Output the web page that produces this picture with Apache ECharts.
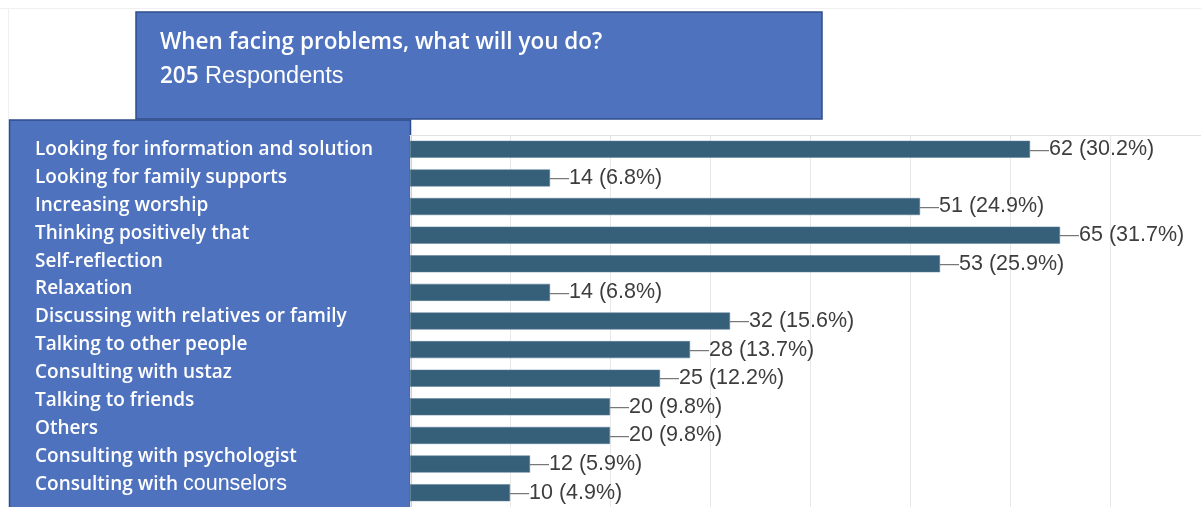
<!DOCTYPE html>
<html>
<head>
<meta charset="utf-8">
<script src="https://cdn.jsdelivr.net/npm/echarts@6/dist/echarts.min.js"></script>
<style>
html,body{margin:0;padding:0;background:#fff;}
#c{width:1201px;height:507px;}
</style>
</head>
<body>
<div id="c"></div>
<script>
const titleLine1 = 'When facing problems, what will you do?';
const respondentsCount = '205';
const respondentsWord = 'Respondents';
const categories = [
  'Looking for information and solution',
  'Looking for family supports',
  'Increasing worship',
  'Thinking positively that',
  'Self-reflection',
  'Relaxation',
  'Discussing with relatives or family',
  'Talking to other people',
  'Consulting with ustaz',
  'Talking to friends',
  'Others',
  'Consulting with psychologist',
  'Consulting with counselors'
];
const counts = [62, 14, 51, 65, 53, 14, 32, 28, 25, 20, 20, 12, 10];
const percents = [30.2, 6.8, 24.9, 31.7, 25.9, 6.8, 15.6, 13.7, 12.2, 9.8, 9.8, 5.9, 4.9];
const xTicks = [0, 10, 20, 30, 40, 50, 60, 70];
const xMax = 79.1;

const chart = echarts.init(document.getElementById('c'), null, {renderer: 'canvas'});
const BOX = '#4f72be';
const BOXB = '#2f4d8c';
const LABEL_FONT = '"Open Sans", Lato, sans-serif';
const ARIAL = '"Liberation Sans", Arial, sans-serif';

chart.setOption({
  backgroundColor: '#ffffff',
  animation: false,
  title: {
    left: 160, top: 26,
    padding: 0,
    text: '{b|' + titleLine1 + '}\n{b|' + respondentsCount + '}{r| ' + respondentsWord + '}',
    textStyle: {
      fontWeight: 'normal',
      rich: {
        b: {color: '#ffffff', fontFamily: LABEL_FONT, fontSize: 22.5, fontWeight: 600, lineHeight: 34},
        r: {color: '#ffffff', fontFamily: ARIAL, fontSize: 23.5, fontWeight: 'normal', lineHeight: 34}
      }
    }
  },
  graphic: [
    {type: 'line', shape: {x1: 0, y1: 8.5, x2: 1201, y2: 8.5}, style: {stroke: '#f0f0f0', lineWidth: 1}, z: 0},
    {type: 'line', shape: {x1: 8.5, y1: 8, x2: 8.5, y2: 120}, style: {stroke: '#f0f0f0', lineWidth: 1}, z: 0},
    {type: 'rect', shape: {x: 136, y: 12, width: 686, height: 107}, style: {fill: BOX, stroke: BOXB, lineWidth: 1.5}, z: 0},
    {type: 'rect', shape: {x: 9.5, y: 120, width: 401, height: 400}, style: {fill: BOX, stroke: BOXB, lineWidth: 1.5}, z: 0}
  ],
  grid: [
    {left: 410, top: 135, width: 791, height: 373, containLabel: false},
    {left: 35, top: 135.5, width: 10, height: 363, containLabel: false}
  ],
  xAxis: [
    {
      type: 'value', gridIndex: 0, position: 'top',
      min: xTicks[0], max: xMax, interval: xTicks[1] - xTicks[0],
      axisLabel: {show: false}, axisTick: {show: false},
      axisLine: {show: true, lineStyle: {color: '#e2e2e2', width: 1}},
      splitLine: {show: true, lineStyle: {color: '#e8e8e8', width: 1}}
    },
    {
      type: 'value', gridIndex: 1, show: false, min: 0, max: 1
    }
  ],
  yAxis: [
    {
      type: 'category', gridIndex: 0, inverse: true, data: categories,
      axisLabel: {show: false}, axisTick: {show: false}, axisLine: {show: false}, splitLine: {show: false}
    },
    {
      type: 'category', gridIndex: 1, inverse: true, data: categories,
      axisTick: {show: false}, axisLine: {show: false}, splitLine: {show: false},
      axisLabel: {
        show: true, inside: true, margin: 0, align: 'left',
        color: '#ffffff', fontFamily: LABEL_FONT, fontSize: 19,
        formatter: function (v) {
          const key = 'counselors';
          if (v.endsWith(key)) {
            return '{a|' + v.slice(0, v.length - key.length) + '}{c|' + key + '}';
          }
          return '{a|' + v + '}';
        },
        rich: {
          a: {color: '#ffffff', fontFamily: LABEL_FONT, fontSize: 19, fontWeight: 600},
          c: {color: '#ffffff', fontFamily: ARIAL, fontSize: 21.5}
        }
      }
    }
  ],
  series: [
    {
      type: 'bar', xAxisIndex: 0, yAxisIndex: 0,
      data: counts,
      barWidth: 17,
      itemStyle: {color: '#365f79', borderColor: '#5a7f96', borderWidth: 0.5},
      z: 3,
      label: {
        show: true, position: 'right', distance: 0,
        formatter: function (p) {
          return '{d|—}{t|' + counts[p.dataIndex] + ' (' + percents[p.dataIndex].toFixed(1) + '%)}';
        },
        rich: {
          d: {color: '#777777', fontFamily: ARIAL, fontSize: 19},
          t: {color: '#3d3d3d', fontFamily: ARIAL, fontSize: 21.5}
        }
      }
    }
  ]
});
</script>
</body>
</html>
